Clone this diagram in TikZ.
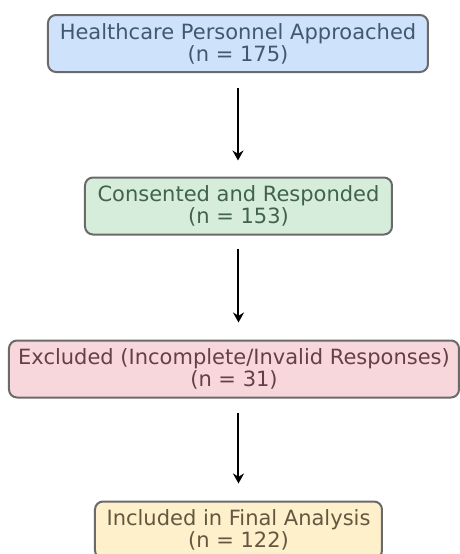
\documentclass[tikz,border=0pt]{standalone}
\usepackage{fontspec}
\setmainfont{DejaVu Sans}
\usetikzlibrary{arrows.meta}
\definecolor{bluefill}{HTML}{CFE2FB}
\definecolor{bluetext}{HTML}{41596F}
\definecolor{greenfill}{HTML}{D6EDDC}
\definecolor{greentext}{HTML}{42624B}
\definecolor{pinkfill}{HTML}{F8D7DC}
\definecolor{pinktext}{HTML}{653F48}
\definecolor{yellowfill}{HTML}{FEF0CB}
\definecolor{yellowtext}{HTML}{625841}
\definecolor{boxborder}{HTML}{6A6A6A}

\begin{document}
\begin{tikzpicture}[x=0.5pt, y=-0.5pt,
  stagebox/.style={draw=boxborder, line width=1pt, rounded corners=4pt,
                   minimum height=28.5pt, align=center, inner sep=2pt,
                   font=\fontsize{10.5}{11}\selectfont},
  flow arrow/.style={-{Stealth[length=5pt, width=5.5pt]}, black, line width=1pt}
]
  \useasboundingbox (0,0) rectangle (460,554);

  \node[stagebox, fill=bluefill, text=bluetext, minimum width=190pt] (approached) at (238,43.5)
    {Healthcare Personnel Approached\\(n = 175)};
  \node[stagebox, fill=greenfill, text=greentext, minimum width=153.5pt] (consented) at (238.5,206)
    {Consented and Responded\\(n = 153)};
  \node[stagebox, fill=pinkfill, text=pinktext, minimum width=225pt] (excluded) at (234,369)
    {Excluded (Incomplete/Invalid Responses)\\(n = 31)};
  \node[stagebox, fill=yellowfill, text=yellowtext, minimum width=143.5pt] (included) at (238.5,530)
    {Included in Final Analysis\\(n = 122)};

  \draw[flow arrow, shorten <=7.5pt, shorten >=8pt]
    (approached.south) -- (approached.south |- consented.north);
  \draw[flow arrow, shorten <=6.5pt, shorten >=8.5pt]
    (consented.south) -- (consented.south |- excluded.north);
  \draw[flow arrow, shorten <=7pt, shorten >=8.5pt]
    (excluded.south -| included.north) -- (included.north);
\end{tikzpicture}
\end{document}
